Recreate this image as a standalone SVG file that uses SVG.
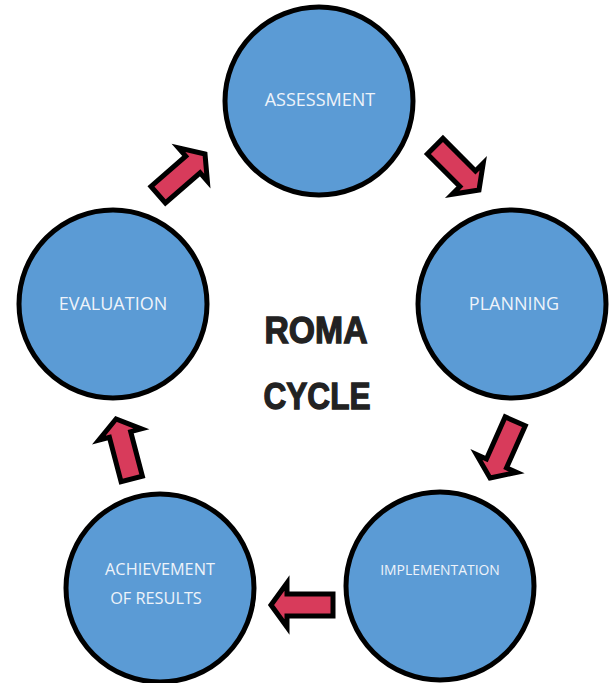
<svg xmlns="http://www.w3.org/2000/svg" width="612" height="683" viewBox="0 0 612 683">
<style>
.node{fill:#5b9bd5;stroke:#000;stroke-width:5}
.lbl{font-family:"Open Sans","Noto Sans",sans-serif;fill:#eef3fa;text-anchor:middle}
.arr{fill:#d83b5b;stroke:#000;stroke-width:5;stroke-linejoin:miter;stroke-miterlimit:10}
.title{font-family:"Liberation Sans",Arial,sans-serif;font-weight:bold;font-size:37px;fill:#222;stroke:#222;stroke-width:1.3;text-anchor:middle}
</style>
<defs>
<path id="blk" d="M0 0 L-16 -22 L-16 -11 L-62 -11 L-62 11 L-16 11 L-16 22 Z"/>
</defs>
<rect width="612" height="683" fill="#fff"/>
<g id="connectors">
<use href="#blk" class="arr" transform="translate(205,154) rotate(-41)"/>
<use href="#blk" class="arr" transform="translate(479,190) rotate(45)"/>
<use href="#blk" class="arr" transform="translate(490,478) rotate(114)"/>
<use href="#blk" class="arr" transform="translate(271,605) rotate(180)"/>
<use href="#blk" class="arr" transform="translate(116,419) rotate(-104.7)"/>
</g>
<g id="assessment">
<circle class="node" cx="319" cy="101" r="94"/>
<text class="lbl" x="320" y="106" font-size="18">ASSESSMENT</text>
</g>
<g id="planning">
<circle class="node" cx="512" cy="304" r="94"/>
<text class="lbl" x="514" y="310" font-size="18">PLANNING</text>
</g>
<g id="implementation">
<circle class="node" cx="440" cy="586" r="94"/>
<text class="lbl" x="440" y="575" font-size="13.9">IMPLEMENTATION</text>
</g>
<g id="achievement">
<circle class="node" cx="160" cy="588" r="94"/>
<text class="lbl" x="160" y="575" font-size="16.3">ACHIEVEMENT</text>
<text class="lbl" x="156" y="604" font-size="16.3">OF RESULTS</text>
</g>
<g id="evaluation">
<circle class="node" cx="113" cy="304" r="94"/>
<text class="lbl" x="113" y="310" font-size="18">EVALUATION</text>
</g>
<g id="title">
<text class="title" x="316" y="343" textLength="103" lengthAdjust="spacingAndGlyphs">ROMA</text>
<text class="title" x="317" y="409" textLength="107" lengthAdjust="spacingAndGlyphs">CYCLE</text>
</g>
</svg>
